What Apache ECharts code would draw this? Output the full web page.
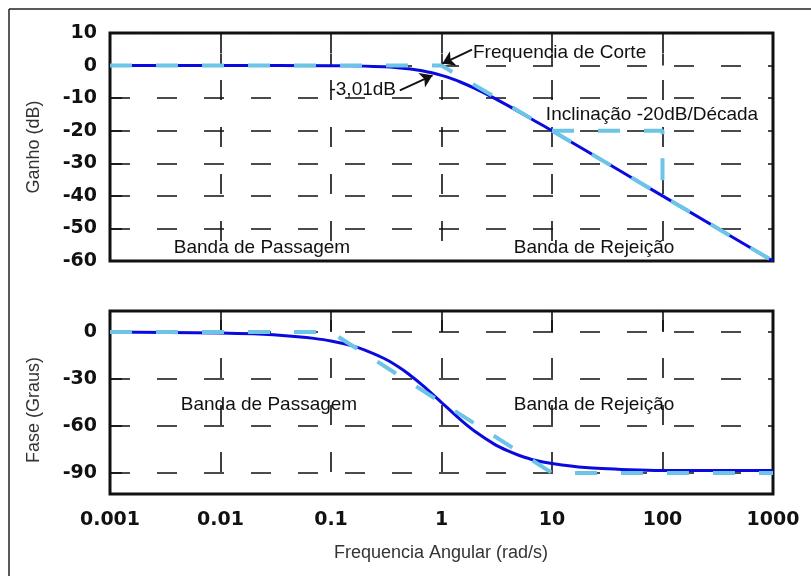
<!DOCTYPE html>
<html>
<head>
<meta charset="utf-8">
<script src="https://cdn.jsdelivr.net/npm/echarts@6/dist/echarts.min.js"></script>
<style>
  html, body { margin: 0; padding: 0; background: #fff; }
  #chart { width: 811px; height: 576px; }
</style>
</head>
<body>
<div id="chart"></div>
<script>
// tick labels
const freqTickLabels = ['0.001', '0.01', '0.1', '1', '10', '100', '1000'];
const phaseTicks = [0, -30, -60, -90];

const gainFreq = [0.001, 0.01, 0.1, 0.2, 0.3, 0.4, 0.5, 0.6, 0.7, 0.8, 1, 1.2, 1.5, 2, 2.5, 3, 4, 5, 7, 10, 20, 50, 100, 1000];
const gainDb = [0, 0, -0.04, -0.17, -0.37, -0.64, -0.97, -1.34, -1.73, -2.15, -3.01, -3.87, -5.12, -6.99, -8.6, -10, -12.3, -14.15, -17, -20, -26, -34, -40, -60];

// magnitude asymptote and slope triangle
const gainAsymFreq = [0.001, 1, 1000];
const gainAsymDb = [0, 0, -60];
const slopeFreq = [10, 100, 100];
const slopeDb = [-20, -20, -40];

// phase (real curve)
const phaseFreq = [0.001, 0.01, 0.02, 0.03, 0.05, 0.07, 0.1, 0.15, 0.2, 0.3, 0.4, 0.5, 0.7, 1, 1.5, 2, 3, 4, 5, 7, 10, 20, 50, 100, 1000];
const phaseDeg = [0, -0.6, -1.1, -1.7, -2.9, -4, -5.7, -8.5, -11.3, -16.7, -21.8, -26.6, -35, -45, -56.3, -63.4, -71.6, -76, -78.7, -81.9, -84, -86.6, -88, -88.5, -88.5];

// phase asymptote
const phaseAsymFreq = [0.001, 0.1, 10, 1000];
const phaseAsymDeg = [0, 0, -90, -90];

const DARK = '#0a0ae0';
const LIGHT = '#6cc4e6';
const INK = '#111';
const TICK_FONT = { fontFamily: 'DejaVu Sans', fontWeight: 'bold', fontSize: 19, color: INK };
const TEXT_FONT = 'Liberation Sans';

const pairs = (xs, ys) => xs.map((x, i) => [x, ys[i]]);

const gridDash = { show: true, lineStyle: { type: [20, 27], color: INK, width: 1.6 } };
const insideTick = { show: true, inside: true, length: 12, lineStyle: { color: INK, width: 1.6 } };

function freqAxis(gridIndex, withLabels) {
    return {
        type: 'log', logBase: 10, gridIndex, min: 0.001, max: 1000,
        axisLine: { show: false },
        axisTick: insideTick,
        axisLabel: withLabels
            ? Object.assign({ margin: 17, formatter: (v, i) => freqTickLabels[i] }, TICK_FONT)
            : { show: false },
        splitLine: gridDash
    };
}

function text(str, x, y, align, size, fill) {
    return {
        type: 'text', x, y, silent: true,
        style: { text: str, fill: fill || '#111', font: `${size || 19}px "${TEXT_FONT}"`, align: align || 'center', verticalAlign: 'middle' }
    };
}

const chart = echarts.init(document.getElementById('chart'), null, { renderer: 'canvas' });

chart.setOption({
    animation: false,
    backgroundColor: '#fff',
    grid: [
        { left: 110, top: 33, width: 663, height: 228, show: true, borderColor: INK, borderWidth: 3, backgroundColor: 'transparent' },
        { left: 110, top: 311, width: 663, height: 183, show: true, borderColor: INK, borderWidth: 3, backgroundColor: 'transparent' }
    ],
    xAxis: [freqAxis(0, false), freqAxis(1, true)],
    yAxis: [
        {
            type: 'value', gridIndex: 0, min: -60, max: 10, interval: 10,
            axisLine: { show: false },
            axisTick: insideTick,
            axisLabel: Object.assign({ margin: 13 }, TICK_FONT),
            splitLine: gridDash
        },
        {
            type: 'value', gridIndex: 1, min: -103.5, max: 13.5,
            axisLine: { show: false },
            axisTick: Object.assign({ customValues: phaseTicks }, insideTick),
            axisLabel: Object.assign({ margin: 13, customValues: phaseTicks }, TICK_FONT),
            splitLine: gridDash
        }
    ],
    series: [
        {
            type: 'line', xAxisIndex: 0, yAxisIndex: 0, showSymbol: false, smooth: 0.2,
            data: pairs(gainFreq, gainDb),
            lineStyle: { color: DARK, width: 3 },
            markLine: {
                silent: true, symbol: ['none', 'arrow'], symbolSize: 12,
                label: { show: false },
                lineStyle: { color: INK, width: 1.8, type: 'solid' },
                data: [
                    [{ coord: [1.89, 4.9] }, { coord: [1.02, 0.6] }],
                    [{ coord: [0.42, -7.6] }, { coord: [0.83, -3] }]
                ]
            }
        },
        {
            type: 'line', xAxisIndex: 0, yAxisIndex: 0, showSymbol: false,
            data: pairs(gainAsymFreq, gainAsymDb),
            lineStyle: { color: LIGHT, width: 4, type: [22, 24] }
        },
        {
            type: 'line', xAxisIndex: 0, yAxisIndex: 0, showSymbol: false,
            data: pairs(slopeFreq, slopeDb),
            lineStyle: { color: LIGHT, width: 4, type: [22, 24] }
        },
        {
            type: 'line', xAxisIndex: 1, yAxisIndex: 1, showSymbol: false, smooth: 0.2,
            data: pairs(phaseFreq, phaseDeg),
            lineStyle: { color: DARK, width: 3 }
        },
        {
            type: 'line', xAxisIndex: 1, yAxisIndex: 1, showSymbol: false,
            data: pairs(phaseAsymFreq, phaseAsymDeg),
            lineStyle: { color: LIGHT, width: 4, type: [22, 24] }
        }
    ],
    graphic: [
        // outer frame (only top and left edges are inside the picture)
        { type: 'line', silent: true, shape: { x1: 9, y1: 9, x2: 811, y2: 9 }, style: { stroke: '#222', lineWidth: 1.5 } },
        { type: 'line', silent: true, shape: { x1: 9, y1: 9, x2: 9, y2: 576 }, style: { stroke: '#222', lineWidth: 1.5 } },
        text('Frequencia de Corte', 473, 53, 'left'),
        text('-3,01dB', 396, 90, 'right'),
        text('Inclinação -20dB/Década', 652, 115),
        text('Banda de Passagem', 262, 248),
        text('Banda de Rejeição', 594, 248),
        text('Banda de Passagem', 269, 405),
        text('Banda de Rejeição', 594, 405),
        text('Frequencia Angular (rad/s)', 441, 553, 'center', 18, '#333'),
        Object.assign(text('Ganho (dB)', 34, 147, 'center', 18, '#333'), { rotation: Math.PI / 2 }),
        Object.assign(text('Fase (Graus)', 34, 410, 'center', 18, '#333'), { rotation: Math.PI / 2 })
    ]
});
</script>
</body>
</html>
